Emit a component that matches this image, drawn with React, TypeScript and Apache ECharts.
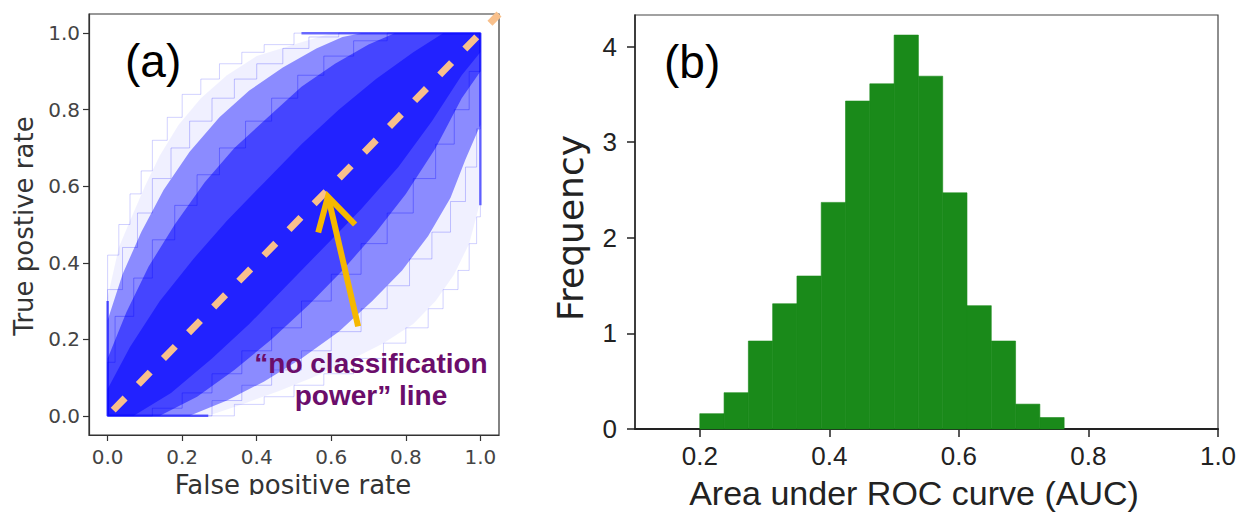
import React, { useEffect, useRef } from 'react';
import * as echarts from 'echarts';

// ---------- data ----------
const rocTicks = [0, 0.2, 0.4, 0.6, 0.8, 1.0];
const aucTicks = [0.2, 0.4, 0.6, 0.8, 1.0];
const freqTicks = [0, 1, 2, 3, 4];

// histogram of AUC (density)
const binEdges = [0.2, 0.2375, 0.275, 0.3125, 0.35, 0.3875, 0.425, 0.4625, 0.5, 0.5375, 0.575, 0.6125, 0.65, 0.6875, 0.725, 0.7625];
const binDensity = [0.16, 0.38, 0.92, 1.31, 1.6, 2.37, 3.43, 3.61, 4.12, 3.69, 2.47, 1.29, 0.92, 0.26, 0.12];

// envelopes of the cloud of ROC curves (outer -> core)
const upper1 = [[0, 0], [0, 0.31], [0.03, 0.44], [0.06, 0.51], [0.1, 0.6], [0.14, 0.68], [0.19, 0.76], [0.25, 0.83], [0.32, 0.89], [0.4, 0.94], [0.5, 0.97], [0.6, 1], [1, 1]];
const lower1 = [[0, 0], [0.27, 0], [0.36, 0.03], [0.46, 0.065], [0.55, 0.1], [0.64, 0.14], [0.74, 0.19], [0.82, 0.24], [0.88, 0.3], [0.93, 0.37], [0.97, 0.45], [1, 0.56], [1, 1]];
const upper2 = [[0, 0], [0, 0.25], [0.04, 0.37], [0.09, 0.48], [0.15, 0.59], [0.22, 0.69], [0.3, 0.78], [0.38, 0.85], [0.47, 0.91], [0.56, 0.96], [0.63, 0.99], [0.68, 1], [1, 1]];
const lower2 = [[0, 0], [0.22, 0], [0.32, 0.04], [0.42, 0.09], [0.52, 0.15], [0.62, 0.22], [0.71, 0.3], [0.79, 0.38], [0.86, 0.47], [0.92, 0.57], [0.96, 0.67], [1, 0.76], [1, 1]];
const upper3 = [[0, 0], [0, 0.15], [0.05, 0.27], [0.11, 0.39], [0.18, 0.5], [0.26, 0.61], [0.34, 0.7], [0.43, 0.78], [0.52, 0.86], [0.61, 0.92], [0.7, 0.97], [0.77, 1], [1, 1]];
const lower3 = [[0, 0], [0.14, 0], [0.24, 0.05], [0.34, 0.12], [0.44, 0.2], [0.54, 0.29], [0.63, 0.38], [0.72, 0.48], [0.8, 0.58], [0.88, 0.7], [0.95, 0.83], [1, 0.9], [1, 1]];
const upper4 = [[0, 0], [0, 0.07], [0.06, 0.18], [0.14, 0.3], [0.23, 0.41], [0.32, 0.51], [0.42, 0.61], [0.52, 0.71], [0.62, 0.8], [0.72, 0.88], [0.82, 0.95], [0.9, 1], [1, 1]];
const lower4 = [[0, 0], [0.07, 0], [0.17, 0.06], [0.28, 0.15], [0.38, 0.24], [0.48, 0.34], [0.58, 0.44], [0.68, 0.54], [0.78, 0.65], [0.87, 0.77], [0.95, 0.89], [1, 0.95], [1, 1]];

// individual faint ROC curves (upper ones rise first, lower ones run right first)
const rocUp1 = [[0, 0], [0, 0.3], [0.03, 0.42], [0.06, 0.5], [0.09, 0.58], [0.12, 0.64], [0.16, 0.72], [0.2, 0.78], [0.25, 0.84], [0.3, 0.88], [0.36, 0.92], [0.42, 0.95], [0.5, 0.97], [0.58, 1], [1, 1]];
const rocUp2 = [[0, 0], [0, 0.22], [0.04, 0.33], [0.08, 0.44], [0.12, 0.53], [0.17, 0.62], [0.22, 0.7], [0.28, 0.77], [0.34, 0.83], [0.4, 0.88], [0.47, 0.92], [0.54, 0.96], [0.62, 0.99], [0.7, 1], [1, 1]];
const rocUp3 = [[0, 0], [0.02, 0.14], [0.07, 0.26], [0.12, 0.36], [0.18, 0.46], [0.24, 0.55], [0.3, 0.63], [0.37, 0.7], [0.44, 0.77], [0.51, 0.83], [0.58, 0.89], [0.66, 0.94], [0.75, 0.98], [0.82, 1], [1, 1]];
const rocLo1 = [[0, 0], [0.27, 0], [0.34, 0.03], [0.42, 0.05], [0.5, 0.08], [0.58, 0.11], [0.66, 0.15], [0.74, 0.19], [0.8, 0.23], [0.86, 0.28], [0.9, 0.33], [0.94, 0.38], [0.97, 0.45], [0.99, 0.52], [1, 0.6], [1, 1]];
const rocLo2 = [[0, 0], [0.2, 0], [0.28, 0.04], [0.36, 0.08], [0.44, 0.12], [0.52, 0.17], [0.6, 0.22], [0.68, 0.28], [0.75, 0.34], [0.81, 0.41], [0.87, 0.48], [0.92, 0.56], [0.96, 0.65], [0.99, 0.75], [1, 0.85], [1, 1]];
const rocLo3 = [[0, 0], [0.12, 0.02], [0.2, 0.06], [0.28, 0.11], [0.36, 0.17], [0.44, 0.23], [0.52, 0.3], [0.6, 0.37], [0.68, 0.45], [0.75, 0.53], [0.82, 0.62], [0.88, 0.71], [0.93, 0.8], [0.97, 0.9], [1, 0.96], [1, 1]];

// dense overlapping edges of the curves
const edgeTopRight = [[0.52, 1], [1, 1], [1, 0.55]];
const edgeBottomLeft = [[0, 0.3], [0, 0], [0.27, 0]];

// "no classification power" diagonal and arrow
const diagonal = [[0, 0], [1.05, 1.05]];
const arrowShaft = [[0.672, 0.234], [0.593, 0.566]];
const arrowHead = [[0.565, 0.479], [0.591, 0.573], [0.664, 0.5]];

const BLUE = (a: number) => `rgba(0,0,255,${a})`;

export default function App() {
  const ref = useRef<HTMLDivElement>(null);

  useEffect(() => {
    document.body.style.margin = '0';
    const chart = echarts.init(ref.current!, null, { renderer: 'svg' });

    const band = (upper: number[][], lower: number[][], fill: string) => ({
      type: 'custom',
      xAxisIndex: 0,
      yAxisIndex: 0,
      silent: true,
      clip: true,
      data: [[0, 0]],
      renderItem: (_p: any, api: any) => {
        const pts = upper.concat(lower.slice().reverse()).map((p) => api.coord(p));
        return { type: 'polygon', shape: { points: pts }, style: { fill } };
      },
    });

    const stepLine = (data: number[][], step: string, color: string) => ({
      type: 'line',
      xAxisIndex: 0,
      yAxisIndex: 0,
      data,
      step,
      symbol: 'none',
      silent: true,
      lineStyle: { color, width: 1 },
    });

    const tickFontA = { fontFamily: 'DejaVu Sans', fontSize: 20, color: '#444' };
    const tickFontB = { fontFamily: 'Liberation Sans', fontSize: 26, color: '#222' };

    const option: any = {
      animation: false,
      backgroundColor: '#ffffff',
      grid: [
        { left: 89, top: 14, width: 410, height: 421, show: true, borderColor: '#333', borderWidth: 1.2, backgroundColor: 'transparent' },
        { left: 635, top: 15, width: 583, height: 414, show: true, borderColor: '#444', borderWidth: 1.2, backgroundColor: 'transparent' },
      ],
      xAxis: [
        {
          type: 'value', gridIndex: 0, min: -0.05, max: 1.05,
          axisLine: { show: true, onZero: false, lineStyle: { color: '#333', width: 1.2 } },
          axisTick: { show: true, length: 6, customValues: rocTicks, lineStyle: { color: '#333', width: 1.2 } },
          axisLabel: { customValues: rocTicks, formatter: (v: number) => v.toFixed(1), margin: 12, ...tickFontA },
          splitLine: { show: false },
        },
        {
          type: 'value', gridIndex: 1, min: 0.1, max: 1.0,
          axisLine: { show: true, onZero: false, lineStyle: { color: '#222', width: 2.2 } },
          axisTick: { show: true, length: 8, customValues: aucTicks, lineStyle: { color: '#222', width: 1.5 } },
          axisLabel: { customValues: aucTicks, formatter: (v: number) => v.toFixed(1), margin: 14, ...tickFontB },
          splitLine: { show: false },
        },
      ],
      yAxis: [
        {
          type: 'value', gridIndex: 0, min: -0.05, max: 1.05,
          axisLine: { show: true, onZero: false, lineStyle: { color: '#333', width: 1.2 } },
          axisTick: { show: true, length: 6, customValues: rocTicks, lineStyle: { color: '#333', width: 1.2 } },
          axisLabel: { customValues: rocTicks, formatter: (v: number) => v.toFixed(1), margin: 9, ...tickFontA },
          splitLine: { show: false },
        },
        {
          type: 'value', gridIndex: 1, min: 0, max: 4.33,
          axisLine: { show: true, onZero: false, lineStyle: { color: '#222', width: 1.5 } },
          axisTick: { show: true, length: 8, customValues: freqTicks, lineStyle: { color: '#222', width: 1.5 } },
          axisLabel: { customValues: freqTicks, formatter: (v: number) => String(v), margin: 18, ...tickFontB },
          splitLine: { show: false },
        },
      ],
      series: [
        band(upper1, lower1, BLUE(0.06)),
        band(upper2, lower2, BLUE(0.42)),
        band(upper3, lower3, BLUE(0.5)),
        band(upper4, lower4, BLUE(0.5)),
        stepLine(rocUp1, 'start', BLUE(0.18)),
        stepLine(rocUp2, 'start', BLUE(0.22)),
        stepLine(rocUp3, 'start', BLUE(0.3)),
        stepLine(rocLo1, 'end', BLUE(0.18)),
        stepLine(rocLo2, 'end', BLUE(0.22)),
        stepLine(rocLo3, 'end', BLUE(0.3)),
        {
          type: 'line', xAxisIndex: 0, yAxisIndex: 0, data: edgeTopRight, symbol: 'none', silent: true,
          lineStyle: { color: BLUE(0.55), width: 2.5 },
        },
        {
          type: 'line', xAxisIndex: 0, yAxisIndex: 0, data: edgeBottomLeft, symbol: 'none', silent: true,
          lineStyle: { color: BLUE(0.6), width: 2.5 },
        },
        {
          type: 'line', xAxisIndex: 0, yAxisIndex: 0, data: diagonal, symbol: 'none', silent: true, clip: true,
          lineStyle: { color: '#f8c08c', width: 7, type: [17, 19], dashOffset: 27.5, cap: 'butt' },
        },
        {
          type: 'line', xAxisIndex: 0, yAxisIndex: 0, data: arrowShaft, symbol: 'none', silent: true,
          lineStyle: { color: '#f5b800', width: 6, cap: 'butt' },
        },
        {
          type: 'line', xAxisIndex: 0, yAxisIndex: 0, data: arrowHead, symbol: 'none', silent: true,
          lineStyle: { color: '#f5b800', width: 6, cap: 'butt', join: 'miter' },
        },
        {
          type: 'custom', xAxisIndex: 1, yAxisIndex: 1, silent: true,
          data: binDensity.map((d, i) => [binEdges[i], binEdges[i + 1], d]),
          encode: { x: [0, 1], y: 2 },
          renderItem: (_p: any, api: any) => {
            const p0 = api.coord([api.value(0), api.value(2)]);
            const p1 = api.coord([api.value(1), 0]);
            return {
              type: 'rect',
              shape: { x: p0[0], y: p0[1], width: p1[0] - p0[0], height: p1[1] - p0[1] },
              style: { fill: '#1a8a1a', stroke: '#1a8a1a', lineWidth: 0.6 },
            };
          },
        },
      ],
      graphic: [
        {
          type: 'text', x: 125, y: 61, z: 100,
          style: { text: '(a)', fontFamily: 'Liberation Sans', fontSize: 46, fill: '#000', align: 'left', verticalAlign: 'middle', textAlign: 'left', textVerticalAlign: 'middle' },
        },
        {
          type: 'text', x: 664, y: 62, z: 100,
          style: { text: '(b)', fontFamily: 'Liberation Sans', fontSize: 46, fill: '#000', align: 'left', verticalAlign: 'middle', textAlign: 'left', textVerticalAlign: 'middle' },
        },
        {
          type: 'text', x: 24, y: 226, rotation: Math.PI / 2, z: 100,
          style: { text: 'True postive rate', fontFamily: 'DejaVu Sans', fontSize: 26, fill: '#333', align: 'center', verticalAlign: 'middle', textAlign: 'center', textVerticalAlign: 'middle' },
        },
        {
          type: 'text', x: 293, y: 485, z: 100,
          style: { text: 'False positive rate', fontFamily: 'DejaVu Sans', fontSize: 26, fill: '#333', align: 'center', verticalAlign: 'middle', textAlign: 'center', textVerticalAlign: 'middle' },
        },
        {
          type: 'rect', z: 101, shape: { x: 150, y: 495, width: 300, height: 23 }, style: { fill: '#ffffff' }, silent: true,
        },
        {
          type: 'text', x: 371, y: 379, z: 100,
          style: {
            text: '\u201cno classification\npower\u201d line', fontFamily: 'Liberation Sans', fontWeight: 'bold', fontSize: 28, lineHeight: 32,
            fill: '#6b0d6b', align: 'center', verticalAlign: 'middle', textAlign: 'center', textVerticalAlign: 'middle',
          },
        },
        {
          type: 'text', x: 570, y: 228, rotation: Math.PI / 2, z: 100,
          style: { text: 'Frequency', fontFamily: 'DejaVu Sans', fontSize: 36, fill: '#222', align: 'center', verticalAlign: 'middle', textAlign: 'center', textVerticalAlign: 'middle' },
        },
        {
          type: 'text', x: 914, y: 493, z: 100,
          style: { text: 'Area under ROC curve (AUC)', fontFamily: 'Liberation Sans', fontSize: 34, fill: '#222', align: 'center', verticalAlign: 'middle', textAlign: 'center', textVerticalAlign: 'middle' },
        },
      ],
    };

    chart.setOption(option);
    return () => chart.dispose();
  }, []);

  return <div ref={ref} style={{ width: 1250, height: 518 }} />;
}
